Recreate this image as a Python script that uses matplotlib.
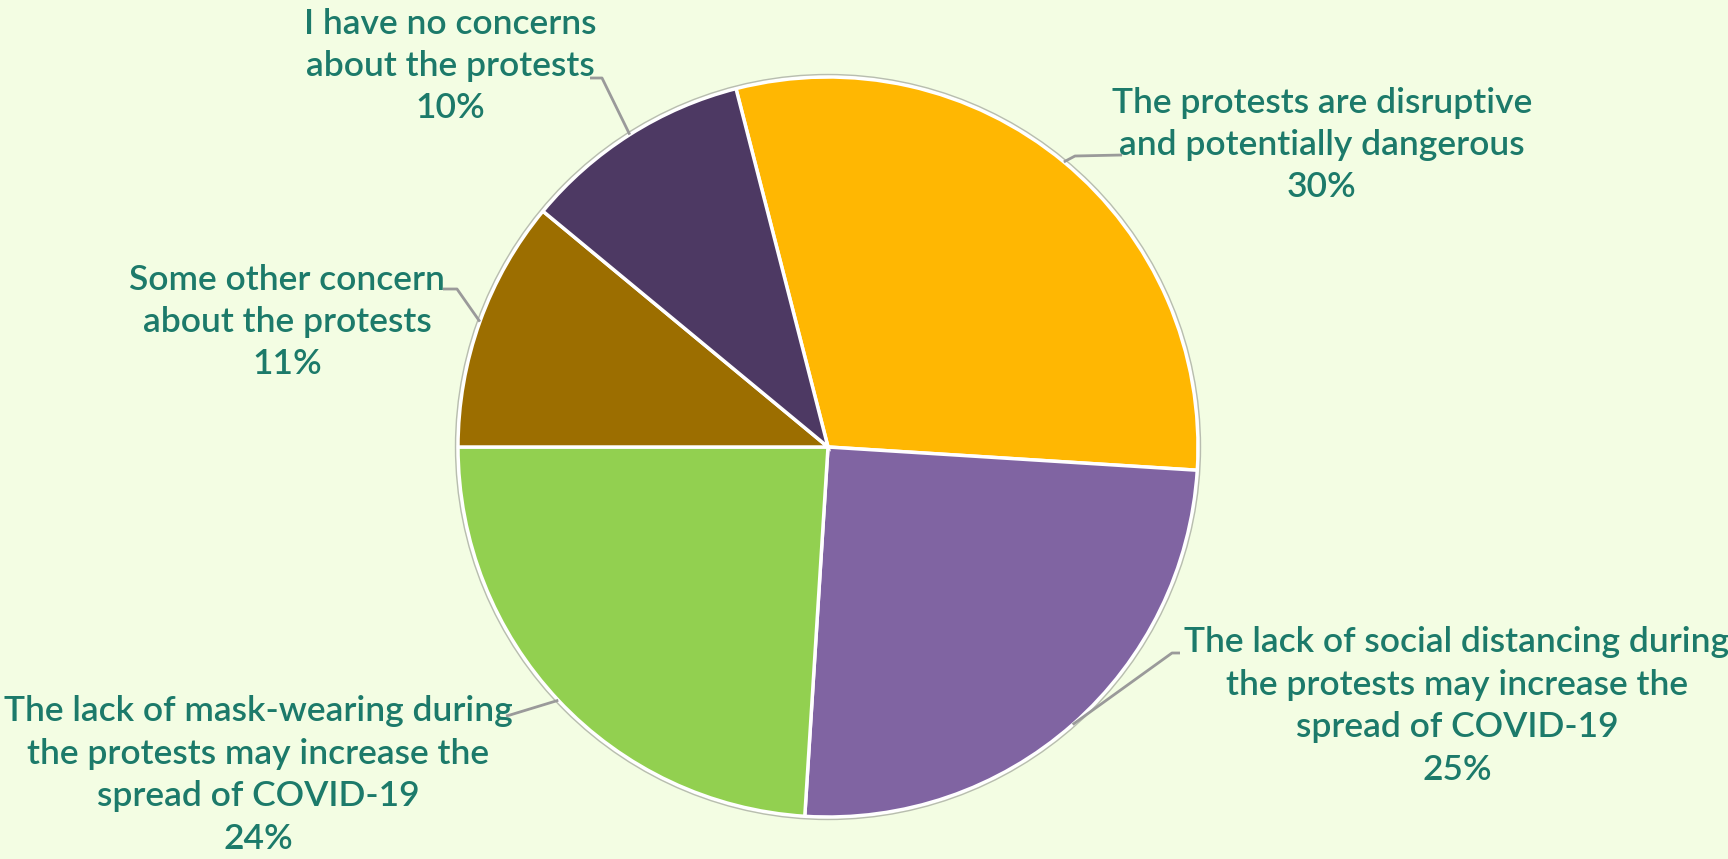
import numpy as np
import matplotlib
matplotlib.use("Agg")
import matplotlib.pyplot as plt

# ---- data ----
categories = [
    "The protests are disruptive\nand potentially dangerous",
    "The lack of social distancing during\nthe protests may increase the\nspread of COVID-19",
    "The lack of mask-wearing during\nthe protests may increase the\nspread of COVID-19",
    "Some other concern\nabout the protests",
    "I have no concerns\nabout the protests",
]
values = [30, 25, 24, 11, 10]
colors = ["#FFB702", "#8064A2", "#92D050", "#9C6E00", "#4D3963"]

# ---- layout (pixel coords, y measured from top) ----
W, H = 1728, 859
CX, CY, R = 828, 447, 370
label_pos = [(1322, 145), (1457, 706), (258, 775), (287, 322), (450, 66)]
# knee and tail of leader lines (pixel coords from top)
leader_pts = [
    [(1075, 156), (1122, 155)],
    [(1172, 653), (1180, 653)],
    [(510, 715), (506, 716)],
    [(457, 289), (443, 289)],
    [(602, 78), (590, 78)],
]
bg = "#F3FDE3"
txt_color = "#1C7A6A"

def Y(y):
    return H - y

fig = plt.figure(figsize=(W / 100, H / 100), dpi=100, facecolor=bg)
ax = fig.add_axes([0, 0, 1, 1])
ax.set_facecolor(bg)

wedges, _ = ax.pie(values, colors=colors, startangle=104.4, counterclock=False,
                   center=(CX, Y(CY)), radius=R, frame=True,
                   wedgeprops=dict(edgecolor="white", linewidth=2.5))
ax.set_xlim(0, W)
ax.set_ylim(0, H)
ax.set_aspect("equal")
ax.axis("off")

# thin grey rim
circ = plt.Circle((CX, Y(CY)), R + 2.5, fill=False, edgecolor="#B8BDB0", linewidth=1.0)
ax.add_patch(circ)

for w, cat, v, (lx, ly), pts in zip(wedges, categories, values, label_pos, leader_pts):
    ang = np.deg2rad((w.theta1 + w.theta2) / 2)
    ex = CX + R * np.cos(ang)
    ey = Y(CY) + R * np.sin(ang)
    xs = [ex] + [p[0] for p in pts]
    ys = [ey] + [Y(p[1]) for p in pts]
    ax.plot(xs, ys, color="#9A9A9A", linewidth=2, solid_capstyle="butt", zorder=1)
    ax.text(lx, Y(ly), f"{cat}\n{v}%", ha="center", va="center", fontsize=25.5,
            color=txt_color, family=["Lato", "DejaVu Sans"], fontweight="semibold",
            linespacing=1.4)

fig.savefig("out.png", dpi=100, facecolor=bg)
